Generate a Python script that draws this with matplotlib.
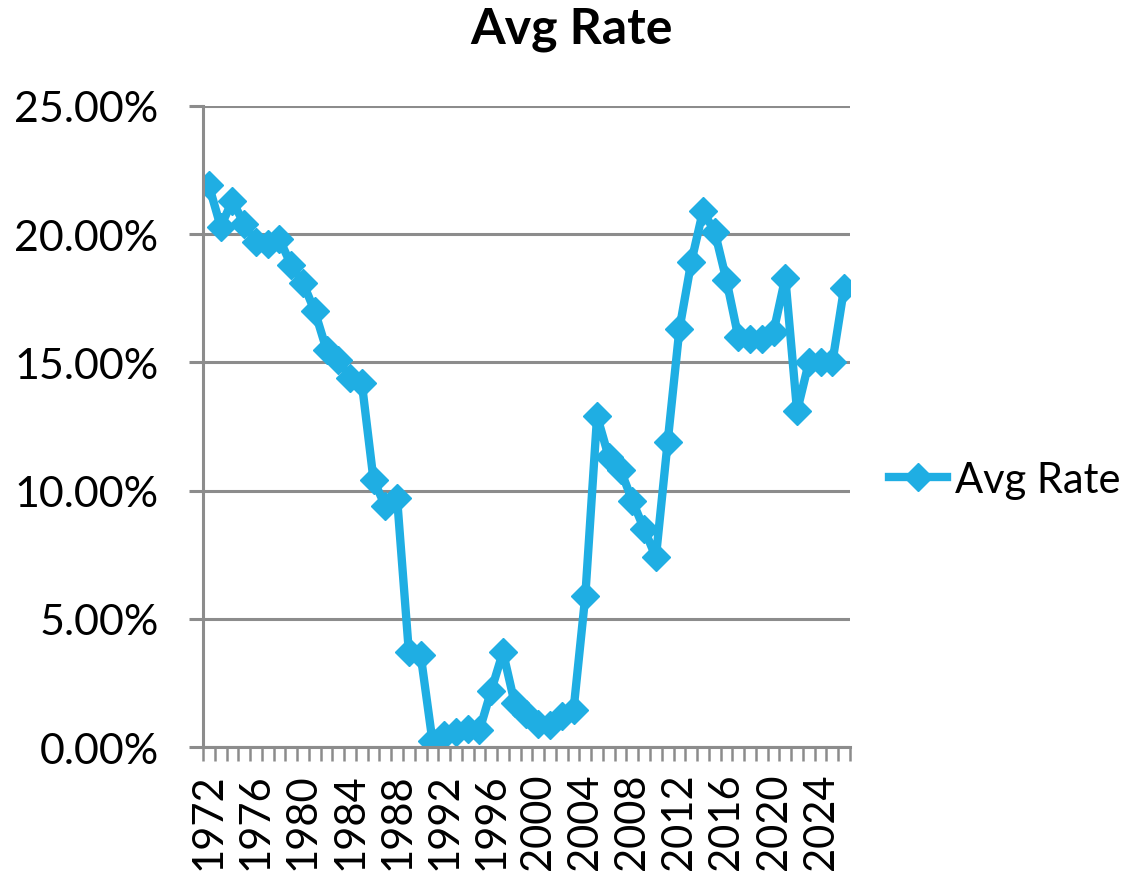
import numpy as np
import matplotlib
matplotlib.use('Agg')
import matplotlib.pyplot as plt

plt.rcParams['font.family'] = ['Lato', 'DejaVu Sans']

# Données
years = list(range(1972, 2027))
avg_rate = [21.9, 20.3, 21.3, 20.4, 19.7, 19.6, 19.8, 18.8, 18.1, 17.0,
            15.5, 15.1, 14.4, 14.2, 10.4, 9.4, 9.7, 3.7, 3.6, 0.25,
            0.45, 0.6, 0.7, 0.65, 2.2, 3.7, 1.7, 1.3, 0.9, 0.85,
            1.2, 1.45, 5.9, 12.9, 11.3, 10.8, 9.6, 8.5, 7.4, 11.9,
            16.3, 18.9, 20.9, 20.1, 18.2, 16.0, 15.9, 15.9, 16.2, 18.3,
            13.1, 15.0, 15.0, 15.0, 17.9]
y_ticks = [0, 5, 10, 15, 20, 25]

blue = '#1FAEE3'
grey = '#8C8C8C'

fig = plt.figure(figsize=(11.36, 8.79), dpi=100)
ax = fig.add_axes([203/1136, 1-748/879, (850-203)/1136, (748-107)/879])

x = np.arange(len(years))
ax.plot(x, avg_rate, color=blue, lw=6, marker='D', markersize=14.5,
        label='Avg Rate', solid_joinstyle='round')

ax.set_xlim(-0.5, len(years) - 0.5)
ax.set_ylim(0, 25)

# axe des valeurs
ax.set_yticks(y_ticks)
ax.set_yticklabels(['%.2f%%' % v for v in y_ticks])
ax.yaxis.grid(True, color=grey, lw=2.2)
ax.set_axisbelow(True)
ax.tick_params(axis='y', direction='out', length=10, width=2.2, color=grey,
               labelsize=31, pad=22)

# axe des catégories : graduations entre les catégories, libellés tous les 4 ans
ax.set_xticks(np.arange(-0.5, len(years), 1))
ax.set_xticklabels([])
ax.set_xticks(x[::4], minor=True)
ax.set_xticklabels([str(y) for y in years[::4]], minor=True, rotation=90)
ax.tick_params(axis='x', which='major', direction='out', length=10, width=1.8,
               color=grey)
ax.tick_params(axis='x', which='minor', length=0, labelsize=30, pad=18)

for s in ['top', 'right']:
    ax.spines[s].set_visible(False)
for s in ['left', 'bottom']:
    ax.spines[s].set_color(grey)
    ax.spines[s].set_linewidth(2.2)

fig.text(572/1136, 1-30/879, 'Avg Rate', ha='center', va='center',
         fontsize=36, fontweight='bold')

fig.legend(loc='center left', bbox_to_anchor=(872/1136, 1-481/879),
           frameon=False, fontsize=30, handlelength=1.4, handletextpad=0.2,
           borderaxespad=0)

plt.savefig('out.png', dpi=100)
